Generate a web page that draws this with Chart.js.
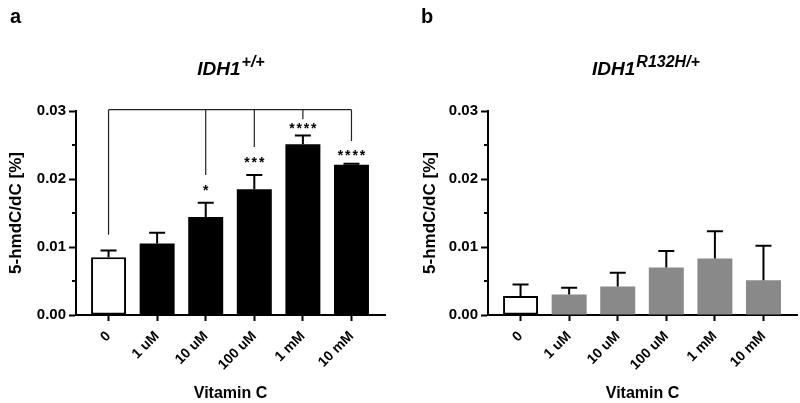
<!DOCTYPE html>
<html><head><meta charset="utf-8">
<script src="https://cdn.jsdelivr.net/npm/chart.js@4.4.1/dist/chart.umd.min.js"></script>
<style>
html,body{margin:0;padding:0;background:#fff;}
#wrap{position:relative;width:800px;height:403px;overflow:hidden;}
canvas{position:absolute;top:0;}
#ca{left:0}#cb{left:400px}
</style></head><body>
<div id="wrap"><canvas id="ca" width="400" height="403"></canvas><canvas id="cb" width="400" height="403"></canvas></div>
<script>
// ---- data ----
const categories = ['0', '1 uM', '10 uM', '100 uM', '1 mM', '10 mM'];
const yTickLabels = ['0.00', '0.01', '0.02', '0.03'];
const wtMean = [0.0085, 0.0105, 0.0144, 0.0185, 0.0251, 0.0221];
const wtSD   = [0.0010, 0.0016, 0.0021, 0.0021, 0.0013, 0.00015];
const mutMean = [0.0028, 0.0030, 0.0042, 0.0070, 0.0083, 0.0051];
const mutSD   = [0.0017, 0.0010, 0.0020, 0.0024, 0.0040, 0.0051];
const wtSigLabels = ['', '', '*', '***', '****', '****'];
const wtSigLabelValue = [null, null, 0.0186, 0.0227, 0.0278, 0.0238];
const wtBracketDrop = [0.0118, null, 0.0206, 0.0247, 0.0288, 0.0256];
const wtBracketTop = 0.0302;

const FONT = '"Liberation Sans", Arial, sans-serif';
Chart.defaults.color = '#000';
Chart.defaults.font.family = FONT;

const decor = {
  id: 'decor',
  afterDraw(chart, args, o) {
    const ctx = chart.ctx, xs = chart.scales.x, ys = chart.scales.y;
    const ca = chart.chartArea;
    ctx.save();
    // minor y ticks
    ctx.strokeStyle = '#000'; ctx.lineWidth = 2;
    ys.ticks.forEach(t => {
      if (Math.abs(t.value * 100 - Math.round(t.value * 100)) > 1e-6) {
        const py = Math.round(ys.getPixelForValue(t.value));
        ctx.beginPath(); ctx.moveTo(ca.left - 4, py); ctx.lineTo(ca.left, py); ctx.stroke();
      }
    });
    // error bars (upper only)
    ctx.lineWidth = 2; ctx.strokeStyle = '#000';
    o.mean.forEach((m, i) => {
      const px = xs.getPixelForValue(i);
      const y0 = ys.getPixelForValue(m), y1 = ys.getPixelForValue(m + o.sd[i]);
      ctx.beginPath(); ctx.moveTo(px, y0); ctx.lineTo(px, y1);
      ctx.moveTo(px - 8, y1); ctx.lineTo(px + 8, y1); ctx.stroke();
    });
    // significance bracket
    if (o.drop) {
      ctx.lineWidth = 1.2; ctx.strokeStyle = '#222';
      const yt = ys.getPixelForValue(o.bracketTop);
      const idx = o.drop.map((d, i) => d == null ? null : i).filter(v => v != null);
      ctx.beginPath();
      ctx.moveTo(xs.getPixelForValue(idx[0]), yt);
      ctx.lineTo(xs.getPixelForValue(idx[idx.length - 1]), yt);
      idx.forEach(i => {
        const px = xs.getPixelForValue(i);
        ctx.moveTo(px, yt); ctx.lineTo(px, ys.getPixelForValue(o.drop[i]));
      });
      ctx.stroke();
      ctx.fillStyle = '#000'; ctx.font = 'bold 14px ' + FONT;
      ctx.textAlign = 'center'; ctx.textBaseline = 'middle';
      o.sig.forEach((s, i) => {
        if (!s) return;
        const px = xs.getPixelForValue(i), py = ys.getPixelForValue(o.sigVal[i]) + 3;
        const n = s.length, sp = 7.3;
        for (let k = 0; k < n; k++) ctx.fillText('*', px + (k - (n - 1) / 2) * sp, py);
      });
    }
    // panel letter
    ctx.fillStyle = '#000'; ctx.textAlign = 'left'; ctx.textBaseline = 'alphabetic';
    ctx.font = 'bold 20px ' + FONT;
    ctx.fillText(o.letter, o.letterX, 23);
    // title
    ctx.font = 'italic bold 19px ' + FONT;
    const w1 = ctx.measureText(o.title).width;
    ctx.font = 'italic bold 16px ' + FONT;
    const w2 = ctx.measureText(o.sup).width;
    const cx = (ca.left + ca.right) / 2 + o.titleShift;
    const x0 = cx - (w1 + w2) / 2;
    ctx.font = 'italic bold 19px ' + FONT;
    ctx.fillText(o.title, x0, 75);
    ctx.font = 'italic bold 16px ' + FONT;
    ctx.fillText(o.sup, x0 + w1 + 1, 67);
    ctx.restore();
  }
};

function makeChart(id, mean, sd, fill, yAxisWidth, rightPad, yTitlePad, decorOpts) {
  return new Chart(document.getElementById(id), {
    type: 'bar',
    data: {
      datasets: [{
        data: mean.map((v, i) => ({ x: i, y: v })),
        backgroundColor: mean.map((v, i) => i === 0 ? '#ffffff' : fill),
        borderColor: '#000',
        borderWidth: mean.map((v, i) => i === 0 ? 2 : 0),
        borderSkipped: false
      }]
    },
    options: {
      responsive: false,
      animation: false,
      layout: { padding: { top: 111, right: rightPad, bottom: 0, left: 0 } },
      plugins: { legend: { display: false }, tooltip: { enabled: false }, decor: decorOpts },
      scales: {
        x: {
          type: 'linear', min: -0.67, max: 5.69, offset: false,
          afterFit: s => { s.height = 88; },
          grid: { offset: false, drawOnChartArea: false, drawTicks: true, tickLength: 6, tickWidth: 2, tickColor: '#000' },
          border: { display: true, color: '#000', width: 2 },
          ticks: {
            stepSize: 1, includeBounds: false, autoSkip: false,
            maxRotation: 45, minRotation: 45, padding: 7,
            font: { size: 14, weight: 'bold' },
            callback: v => categories[v] ?? ''
          },
          title: { display: true, text: 'Vitamin C', font: { size: 16, weight: 'bold' }, padding: { top: 0, bottom: 0 } }
        },
        y: {
          min: 0, max: 0.03,
          afterFit: s => { s.width = yAxisWidth; },
          grid: { drawOnChartArea: false, drawTicks: true, tickLength: 7, tickWidth: 2,
                  tickColor: c => (Math.abs(c.tick.value * 100 - Math.round(c.tick.value * 100)) < 1e-6) ? '#000' : 'rgba(0,0,0,0)' },
          border: { display: true, color: '#000', width: 2 },
          ticks: {
            stepSize: 0.005, padding: 3,
            font: { size: 15, weight: 'bold' },
            callback: v => {
              const k = Math.round(v * 100);
              return Math.abs(v * 100 - k) < 1e-6 ? (yTickLabels[k] ?? '') : '';
            }
          },
          title: { display: true, text: '5-hmdC/dC [%]', font: { size: 17, weight: 'bold' }, padding: { top: yTitlePad, bottom: 0 } }
        }
      }
    },
    plugins: [decor]
  });
}

makeChart('ca', wtMean, wtSD, '#000000', 76, 15, 6, {
  mean: wtMean, sd: wtSD, drop: wtBracketDrop, bracketTop: wtBracketTop,
  sig: wtSigLabels, sigVal: wtSigLabelValue,
  letter: 'a', letterX: 10, title: 'IDH1', sup: '+/+', titleShift: 0
});
makeChart('cb', mutMean, mutSD, '#898989', 88, 3, 20, {
  mean: mutMean, sd: mutSD, drop: null,
  letter: 'b', letterX: 21, title: 'IDH1', sup: 'R132H/+', titleShift: 3
});
</script>
</body></html>
